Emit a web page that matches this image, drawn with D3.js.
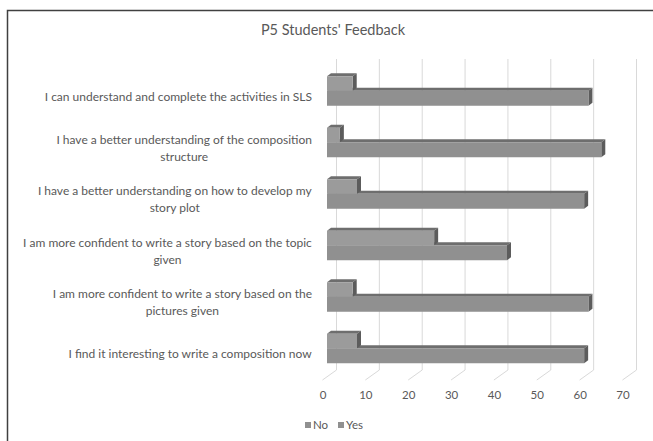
<!DOCTYPE html>
<html>
<head>
<meta charset="utf-8">
<script src="https://cdn.jsdelivr.net/npm/d3@7/dist/d3.min.js"></script>
<style>
  body { margin: 0; background: #fff; }
  text { font-family: "Lato", "Open Sans", sans-serif; fill: #595959; }
</style>
</head>
<body>
<script>
var categories = [
  "I can understand and complete the activities in SLS",
  "I have a better understanding of the composition structure",
  "I have a better understanding on how to develop my story plot",
  "I am more confident to write a story based on the topic given",
  "I am more confident to write a story based on the pictures given",
  "I find it interesting to write a composition now"
];
var noValues  = [6, 3, 7, 25, 6, 7];
var yesValues = [61, 64, 60, 42, 61, 60];
var seriesNames = ["No", "Yes"];
var xTicks = [0, 10, 20, 30, 40, 50, 60, 70];

var w = 653;
var h = 441;

// 3D offsets: floor depth and bar depth
var floorDx = 14, floorDy = -10;
var barDx = 4, barDy = -3;

var svg = d3.select("body").append("svg")
    .attr("width", w)
    .attr("height", h);

// frame (right and bottom edges fall outside the picture)
svg.append("rect")
   .attr("x", 7.5).attr("y", 10.5)
   .attr("width", 700).attr("height", 500)
   .attr("fill", "#fff")
   .attr("stroke", "#404040")
   .attr("stroke-width", 1.5);

svg.append("text")
   .attr("x", 333).attr("y", 35)
   .attr("text-anchor", "middle")
   .style("font-size", "14.5px")
   .text("P5 Students' Feedback");

// front plane scales
var x = d3.scaleLinear().domain([0, 70]).range([322, 622]);
var y = d3.scaleBand().domain(categories).range([71, 380]);

// gridlines on back wall + floor diagonals
var grid = svg.append("g").attr("stroke", "#d9d9d9").attr("stroke-width", 1).attr("fill", "none");
grid.selectAll("path")
    .data(xTicks)
    .enter()
    .append("path")
    .attr("d", function(d) {
      var xb = x(d) + floorDx + 0.5;
      return "M" + xb + ",59 L" + xb + "," + (380 + floorDy) +
             " L" + (x(d) + 0.5) + ",380";
    });

// x tick labels
svg.selectAll("text.tick")
   .data(xTicks)
   .enter()
   .append("text")
   .attr("class", "tick")
   .attr("x", function(d) { return x(d) + 1; })
   .attr("y", 399)
   .attr("text-anchor", "middle")
   .style("font-size", "11.5px")
   .text(function(d) { return d; });

// category labels, wrapped
function wrapLines(str, maxW, textEl) {
  var words = str.split(" "), lines = [], line = "";
  words.forEach(function(word) {
    var test = line ? line + " " + word : word;
    textEl.text(test);
    if (textEl.node().getComputedTextLength() > maxW && line) {
      lines.push(line);
      line = word;
    } else {
      line = test;
    }
  });
  lines.push(line);
  return lines;
}

var labelG = svg.append("g");
categories.forEach(function(c) {
  var t = labelG.append("text")
      .attr("text-anchor", "middle")
      .style("font-size", "12px");
  var lines = wrapLines(c, 300, t);
  t.text(null);
  var cy = y(c) + y.bandwidth() / 2;
  var lineH = 16.6;
  var startY = cy - (lines.length - 1) * lineH / 2 + 4;
  lines.forEach(function(l, i) {
    t.append("tspan").attr("x", 0).attr("y", startY + i * lineH).text(l);
  });
  // right-align block, centre lines inside it
  var bw = t.node().getBBox().width;
  t.selectAll("tspan").attr("x", 312 - bw / 2);
});

// bars
var bars = [];
categories.forEach(function(c, i) {
  var cy = y(c) + y.bandwidth() / 2;
  // draw Yes (lower) first, then No over it
  bars.push({ v: yesValues[i], top: cy - 6, hgt: 15, front: "#909090" });
  bars.push({ v: noValues[i], top: cy - 20.5, hgt: 14.5, front: "#9b9b9b" });
});

var x0 = x(0) + 5;
var barG = svg.selectAll("g.bar")
    .data(bars)
    .enter()
    .append("g")
    .attr("class", "bar");

barG.append("polygon") // top face
    .attr("fill", "#6e6e6e")
    .attr("points", function(d) {
      var x1 = x0 + x(d.v) - x(0);
      return [[x0, d.top], [x1, d.top], [x1 + barDx, d.top + barDy], [x0 + barDx, d.top + barDy]].join(" ");
    });
barG.append("polygon") // side face
    .attr("fill", "#5c5c5c")
    .attr("points", function(d) {
      var x1 = x0 + x(d.v) - x(0);
      return [[x1, d.top], [x1 + barDx, d.top + barDy], [x1 + barDx, d.top + d.hgt + barDy], [x1, d.top + d.hgt]].join(" ");
    });
barG.append("rect") // front face
    .attr("x", x0)
    .attr("y", function(d) { return d.top; })
    .attr("width", function(d) { return x(d.v) - x(0); })
    .attr("height", function(d) { return d.hgt; })
    .attr("fill", function(d) { return d.front; });

// legend
var legend = svg.selectAll("g.legend")
    .data(seriesNames)
    .enter()
    .append("g")
    .attr("class", "legend")
    .attr("transform", function(d, i) { return "translate(" + (305 + i * 33) + ",0)"; });
legend.append("rect")
    .attr("x", 0).attr("y", 422)
    .attr("width", 6).attr("height", 6)
    .attr("fill", "#909090");
legend.append("text")
    .attr("x", 8).attr("y", 429)
    .style("font-size", "11.5px")
    .text(function(d) { return d; });
</script>
</body>
</html>
